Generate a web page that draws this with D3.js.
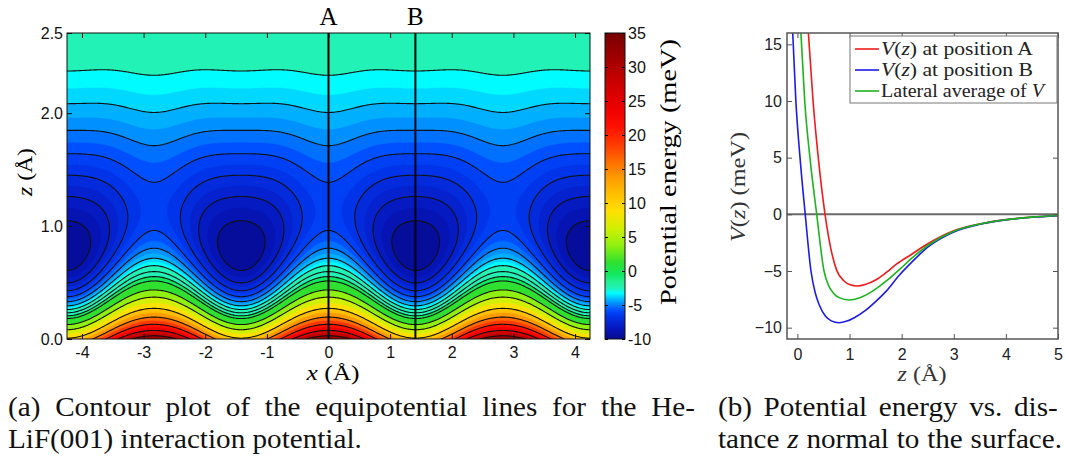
<!DOCTYPE html>
<html>
<head>
<meta charset="utf-8">
<script src="https://cdn.jsdelivr.net/npm/d3@7"></script>
<style>
  body { margin: 0; background: #fff; }
  svg { display: block; }
</style>
</head>
<body>
<script>
// ---- panel (a): He-LiF(001) potential, model parameters
const latticePeriod = 2.83            // Å, spacing of the repulsive sites
const siteNames = ['A', 'B']
const sitePositions = [0, 1.41]       // Å
const wellDepth = [6.33, 9.56]        // meV, minima of V(z) at A and B
const wellPos = [1.15, 0.80]          // Å, z of the minima
const wellRange = [1.09, 1.12]        // 1/Å, Morse range parameter

const fillLevels = [-9, -8.5, -8, -7.5, -7, -6.5, -6, -5.5, -5, -4.5, -4, -3.5, -3, -1, 0,
  2.5, 5, 7.5, 10, 12.5, 15, 17.5, 20, 22.5, 25, 27.5, 30, 32.5, 35]
const lineLevels = [-9, -8, -7, -6, -5, -4, -3, -2, -1, 0, 2.5, 5, 10, 15, 20, 25, 30, 35]

const xTicksA = [-4, -3, -2, -1, 0, 1, 2, 3, 4]
const zTicksA = [0, 1, 2, 2.71]
const zTickLabelsA = ['0.0', '1.0', '2.0', '2.5']
const cbarTicks = [35, 30, 25, 20, 15, 10, 5, 0, -5, -10]

// colour map
const cmapValues = [-10, -9.25, -8.5, -7.5, -6.5, -5.75, -5.25, -4.75, -4.25, -3.75, -3.25, -2.5, -1.5, -0.5,
  1.25, 3.75, 6.25, 8.75, 11.25, 13.75, 16.25, 18.75, 21.25, 23.75, 26.25, 28.75, 31.25, 33.75, 35]
const cmapColors = ['#060a90', '#0610a4', '#0616bc', '#0426d4', '#0038ee', '#0050ff', '#0070ff', '#0090ff',
  '#00b0ff', '#00d8ff', '#00fcff', '#22f2b6', '#20f090', '#10e860', '#30e030', '#90f010', '#d0f000',
  '#ffe000', '#ffc000', '#ff9a00', '#ff6a00', '#ff3800', '#ff1000', '#f00000', '#d80000', '#c00000',
  '#a00000', '#880000', '#700000']

// ---- panel (b): V(z) curves
const zA = [0.15, 0.21, 0.30, 0.40, 0.53, 0.64, 0.75, 0.9, 1.0, 1.15, 1.3, 1.5, 1.7, 1.9, 2.2, 2.5, 3.0, 3.5, 4.0, 4.5, 5.0]
const vA = [20.5, 16, 10, 5, 0, -3, -4.9, -5.9, -6.2, -6.33, -6.2, -5.8, -5.15, -4.4, -3.5, -2.6, -1.45, -0.85, -0.47, -0.25, -0.1]
const zB = [-0.13, -0.09, -0.03, 0.05, 0.15, 0.26, 0.34, 0.42, 0.54, 0.65, 0.8, 0.95, 1.1, 1.3, 1.5, 1.7, 1.95, 2.2, 2.5, 3.0, 3.5, 4.0, 4.5, 5.0]
const vB = [19, 16, 10, 5, 0, -5, -6.9, -8, -9, -9.4, -9.56, -9.42, -9.1, -8.5, -7.7, -6.8, -5.4, -4.2, -2.9, -1.55, -0.88, -0.49, -0.26, -0.11]
const zAvg = [-0.02, 0.067, 0.14, 0.24, 0.37, 0.51, 0.6, 0.7, 0.8, 0.99, 1.2, 1.45, 1.7, 1.95, 2.2, 2.5, 3.0, 3.5, 4.0, 4.5, 5.0]
const vAvg = [21, 16, 10, 5, 0, -5, -6.3, -7.0, -7.35, -7.56, -7.35, -6.75, -5.9, -4.9, -3.85, -2.75, -1.5, -0.86, -0.48, -0.25, -0.1]
const curveNames = ['position A', 'position B', 'Lateral average of ']
const curveColors = ['#ee1c1c', '#1c1ce6', '#1cb41c']
const zTicksB = [0, 1, 2, 3, 4, 5]
const vTicksB = [-10, -5, 0, 5, 10, 15]

const width = 1065, height = 459
const svg = d3.select('body').append('svg')
  .attr('width', width)
  .attr('height', height)
  .style('font-family', '"Liberation Sans", Arial, sans-serif')

const serif = '"Liberation Serif", "Times New Roman", serif'

// stretch a serif text horizontally so it spans the width seen in the figure
function fitWidth(sel, target) {
  sel.attr('textLength', target).attr('lengthAdjust', 'spacingAndGlyphs')
}

// ================= panel (a) =================
const x = d3.scaleLinear().domain([-4.243, 4.243]).range([67, 590])
const z = d3.scaleLinear().domain([0, 2.71]).range([339, 33])

const cmap = d3.scaleLinear().domain(cmapValues).range(cmapColors).clamp(true)

function potential(px, pz) {
  const w = (1 + Math.cos(2 * Math.PI * px / latticePeriod)) / 2
  const D = w * wellDepth[0] + (1 - w) * wellDepth[1]
  const zm = w * wellPos[0] + (1 - w) * wellPos[1]
  const k = w * wellRange[0] + (1 - w) * wellRange[1]
  const u = Math.exp(-k * (pz - zm))
  return D * (u * u - 2 * u)
}

const nx = 520, nz = 320
const gx0 = -4.45, gx1 = 4.45, gz0 = -0.08, gz1 = 2.86
const dx = (gx1 - gx0) / (nx - 1), dz = (gz1 - gz0) / (nz - 1)
const grid = new Float64Array(nx * nz)
for (let j = 0; j < nz; j++) {
  for (let i = 0; i < nx; i++) {
    grid[j * nx + i] = potential(gx0 + i * dx, gz0 + j * dz)
  }
}

// d3.contours puts sample i at grid coordinate i + 0.5
const gridPath = d3.geoPath(d3.geoTransform({
  point: function (u, v) {
    this.stream.point(x(gx0 + (u - 0.5) * dx), z(gz0 + (v - 0.5) * dz))
  }
}))

svg.append('clipPath').attr('id', 'clipA')
  .append('rect').attr('x', 67).attr('y', 33).attr('width', 523).attr('height', 306)

const plotA = svg.append('g').attr('clip-path', 'url(#clipA)')

plotA.append('rect')
  .attr('x', 67).attr('y', 33).attr('width', 523).attr('height', 306)
  .attr('fill', cmap(-9.6))

const bandColor = v => {
  const i = fillLevels.indexOf(v)
  const hi = i < fillLevels.length - 1 ? fillLevels[i + 1] : v + 2.5
  return cmap(v === -3 ? -2.5 : (v + hi) / 2)
}

const fills = d3.contours().size([nx, nz]).thresholds(fillLevels)(grid)
plotA.selectAll('path.band')
  .data(fills)
  .join('path')
  .attr('class', 'band')
  .attr('d', gridPath)
  .attr('fill', d => bandColor(d.value))
  .attr('stroke', d => bandColor(d.value))
  .attr('stroke-width', 0.4)

const isolines = d3.contours().size([nx, nz]).thresholds(lineLevels)(grid)
plotA.selectAll('path.iso')
  .data(isolines)
  .join('path')
  .attr('class', 'iso')
  .attr('d', gridPath)
  .attr('fill', 'none')
  .attr('stroke', '#111')
  .attr('stroke-width', 1.1)

plotA.selectAll('line.site')
  .data(sitePositions)
  .join('line')
  .attr('class', 'site')
  .attr('x1', d => x(d)).attr('x2', d => x(d))
  .attr('y1', 33).attr('y2', 339)
  .attr('stroke', '#000')
  .attr('stroke-width', 2)

svg.selectAll('text.site')
  .data(siteNames)
  .join('text')
  .attr('class', 'site')
  .attr('x', (d, i) => x(sitePositions[i]))
  .attr('y', 25)
  .attr('text-anchor', 'middle')
  .style('font-family', serif)
  .style('font-size', '25px')
  .text(d => d)

// axes of (a)
const axA = svg.append('g')
axA.append('g').attr('transform', 'translate(0,339)')
  .call(d3.axisBottom(x).tickValues(xTicksA).tickSize(-5).tickPadding(8).tickFormat(d => String(d)))
axA.append('g').attr('transform', 'translate(0,33)')
  .call(d3.axisTop(x).tickValues(xTicksA).tickSize(-5).tickFormat(''))
axA.append('g').attr('transform', 'translate(67,0)')
  .call(d3.axisLeft(z).tickValues(zTicksA).tickSize(-5).tickPadding(4)
    .tickFormat((d, i) => zTickLabelsA[i]))
axA.append('g').attr('transform', 'translate(590,0)')
  .call(d3.axisRight(z).tickValues(zTicksA).tickSize(-5).tickFormat(''))
axA.selectAll('.domain').remove()
axA.selectAll('text').style('font-size', '16px').attr('fill', '#111')
axA.selectAll('line').attr('stroke', '#111')
svg.append('rect')
  .attr('x', 67).attr('y', 33).attr('width', 523).attr('height', 306)
  .attr('fill', 'none').attr('stroke', '#111').attr('stroke-width', 1)

svg.append('text')
  .attr('x', 333).attr('y', 380)
  .attr('text-anchor', 'middle')
  .style('font-family', serif).style('font-size', '22px')
  .call(t => t.append('tspan').style('font-style', 'italic').text('x'))
  .call(t => t.append('tspan').text(' (Å)'))
  .call(fitWidth, 53)

svg.append('text')
  .attr('transform', 'translate(32,172) rotate(-90)')
  .attr('text-anchor', 'middle')
  .style('font-family', serif).style('font-size', '22px')
  .call(t => t.append('tspan').style('font-style', 'italic').text('z'))
  .call(t => t.append('tspan').text(' (Å)'))
  .call(fitWidth, 48)

// colour bar
const cb = d3.scaleLinear().domain([-10, 35]).range([339, 33])
const grad = svg.append('defs').append('linearGradient')
  .attr('id', 'cbGrad').attr('x1', 0).attr('y1', 1).attr('x2', 0).attr('y2', 0)
grad.selectAll('stop')
  .data(cmapValues)
  .join('stop')
  .attr('offset', d => (d + 10) / 45)
  .attr('stop-color', (d, i) => cmapColors[i])

svg.append('rect')
  .attr('x', 605).attr('y', 33).attr('width', 20).attr('height', 306)
  .attr('fill', 'url(#cbGrad)').attr('stroke', '#111').attr('stroke-width', 1)

const cbAxis = svg.append('g').attr('transform', 'translate(625,0)')
  .call(d3.axisRight(cb).tickValues(cbarTicks).tickSize(-3).tickPadding(3).tickFormat(d => String(d)))
cbAxis.select('.domain').remove()
cbAxis.selectAll('text').style('font-size', '16px').attr('fill', '#111')
svg.append('g').attr('transform', 'translate(605,0)')
  .call(d3.axisLeft(cb).tickValues(cbarTicks).tickSize(-3).tickFormat(''))
  .call(g => g.select('.domain').remove())

svg.append('text')
  .attr('transform', 'translate(676,172) rotate(-90)')
  .attr('text-anchor', 'middle')
  .style('font-family', serif).style('font-size', '23px')
  .text('Potential energy (meV)')
  .call(fitWidth, 266)

// ================= panel (b) =================
const zb = d3.scaleLinear().domain([-0.2, 5]).range([787, 1058])
const vb = d3.scaleLinear().domain([-11, 16]).range([339, 33])

svg.append('clipPath').attr('id', 'clipB')
  .append('rect').attr('x', 787).attr('y', 33).attr('width', 271).attr('height', 306)

const plotB = svg.append('g').attr('clip-path', 'url(#clipB)')

plotB.append('line')
  .attr('x1', zb(-0.2)).attr('x2', zb(5))
  .attr('y1', vb(0)).attr('y2', vb(0))
  .attr('stroke', '#6a6a6a').attr('stroke-width', 2)

const series = [
  { z: zA, v: vA },
  { z: zB, v: vB },
  { z: zAvg, v: vAvg }
]
const line = d3.line()
  .x(d => zb(d[0]))
  .y(d => vb(d[1]))
  .curve(d3.curveMonotoneX)

plotB.selectAll('path.curve')
  .data(series)
  .join('path')
  .attr('class', 'curve')
  .attr('d', s => line(s.z.map((zz, i) => [zz, s.v[i]])))
  .attr('fill', 'none')
  .attr('stroke', (s, i) => curveColors[i])
  .attr('stroke-width', 1.6)

const minus = d => (d < 0 ? '\u2212' + Math.abs(d) : String(d))
const axB = svg.append('g')
axB.append('g').attr('transform', 'translate(0,339)')
  .call(d3.axisBottom(zb).tickValues(zTicksB).tickSize(-5).tickPadding(10).tickFormat(minus))
axB.append('g').attr('transform', 'translate(0,33)')
  .call(d3.axisTop(zb).tickValues(zTicksB).tickSize(-5).tickFormat(''))
axB.append('g').attr('transform', 'translate(787,0)')
  .call(d3.axisLeft(vb).tickValues(vTicksB).tickSize(-5).tickPadding(5).tickFormat(minus))
axB.append('g').attr('transform', 'translate(1058,0)')
  .call(d3.axisRight(vb).tickValues(vTicksB).tickSize(-5).tickFormat(''))
axB.selectAll('.domain').remove()
axB.selectAll('text').style('font-size', '16px').attr('fill', '#222')
axB.selectAll('line').attr('stroke', '#555')
svg.append('rect')
  .attr('x', 787).attr('y', 33).attr('width', 271).attr('height', 306)
  .attr('fill', 'none').attr('stroke', '#555').attr('stroke-width', 1.5)

// legend
const legend = svg.append('g')
legend.append('rect')
  .attr('x', 850).attr('y', 36).attr('width', 207).attr('height', 67)
  .attr('fill', '#fff').attr('stroke', '#777').attr('stroke-width', 1)
const entries = legend.selectAll('g.entry')
  .data(curveNames)
  .join('g')
  .attr('class', 'entry')
  .attr('transform', (d, i) => `translate(0,${49 + i * 21})`)
entries.append('line')
  .attr('x1', 855).attr('x2', 879)
  .attr('stroke', (d, i) => curveColors[i]).attr('stroke-width', 1.6)
entries.append('text')
  .attr('x', 881).attr('y', 5.5)
  .style('font-family', serif).style('font-size', '18px').attr('fill', '#222')
  .each(function (d, i) {
    const t = d3.select(this)
    if (i < 2) {
      t.append('tspan').style('font-style', 'italic').text('V')
      t.append('tspan').text('(')
      t.append('tspan').style('font-style', 'italic').text('z')
      t.append('tspan').text(') at ' + d)
    } else {
      t.append('tspan').text(d)
      t.append('tspan').style('font-style', 'italic').text('V')
    }
    t.call(fitWidth, i < 2 ? 152 : 163)
  })

svg.append('text')
  .attr('x', 922).attr('y', 381)
  .attr('text-anchor', 'middle')
  .style('font-family', serif).style('font-size', '21px').attr('fill', '#333')
  .call(t => t.append('tspan').style('font-style', 'italic').text('z'))
  .call(t => t.append('tspan').text(' (Å)'))
  .call(fitWidth, 49)

svg.append('text')
  .attr('transform', 'translate(745,187) rotate(-90)')
  .attr('text-anchor', 'middle')
  .style('font-family', serif).style('font-size', '20px').attr('fill', '#333')
  .call(t => t.append('tspan').style('font-style', 'italic').text('V'))
  .call(t => t.append('tspan').text('('))
  .call(t => t.append('tspan').style('font-style', 'italic').text('z'))
  .call(t => t.append('tspan').text(') (meV)'))
  .call(fitWidth, 110)

// captions, justified like the typeset figure
const captions = [
  { x: 8, y: 416, len: 687, parts: [['(a) Contour plot of the equipotential lines for the He-', false]] },
  { x: 8, y: 448, len: null, parts: [['LiF(001) interaction potential.', false]] },
  { x: 718, y: 416, len: 344, parts: [['(b) Potential energy vs.  dis-', false]] },
  { x: 718, y: 448, len: 344, parts: [['tance ', false], ['z', true], [' normal to the surface.', false]] }
]
const stretch = 1.08
svg.selectAll('text.caption')
  .data(captions)
  .join('text')
  .attr('class', 'caption')
  .attr('x', 0).attr('y', 0)
  .attr('transform', d => `translate(${d.x},${d.y}) scale(${stretch},1)`)
  .style('font-family', serif).style('font-size', '27px').attr('fill', '#111')
  .each(function (d) {
    const t = d3.select(this)
    d.parts.forEach(p => t.append('tspan').style('font-style', p[1] ? 'italic' : null).text(p[0]))
    if (d.len) {
      const w0 = this.getComputedTextLength()
      const spaces = d.parts.map(p => p[0]).join('').split(' ').length - 1
      t.style('word-spacing', Math.max(0, (d.len / stretch - w0) / spaces) + 'px')
    }
  })
</script>
</body>
</html>
